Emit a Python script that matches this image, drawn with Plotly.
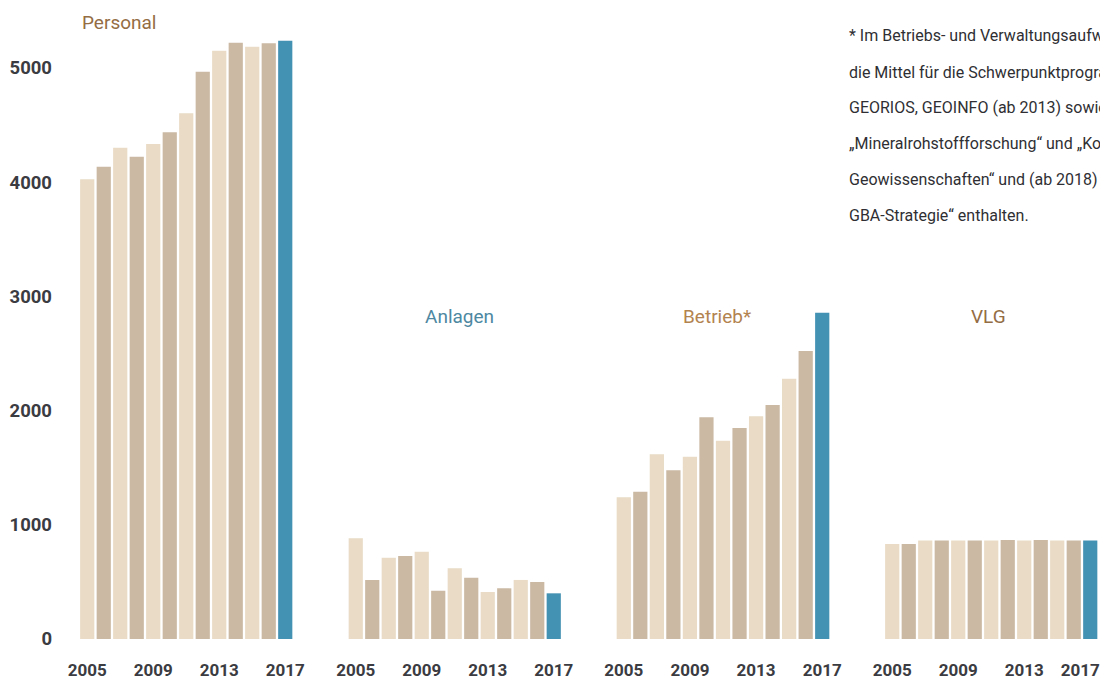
import plotly.graph_objects as go

years = list(range(2005, 2018))
personal = [4025, 4136, 4302, 4223, 4335, 4437, 4603, 4968, 5151, 5222, 5187, 5216, 5239]
anlagen = [882, 517, 712, 727, 765, 423, 619, 537, 412, 444, 517, 499, 400]
betrieb = [1241, 1290, 1617, 1477, 1596, 1941, 1736, 1848, 1950, 2049, 2279, 2522, 2857]
vlg = [832, 832, 862, 862, 862, 862, 862, 866, 862, 866, 862, 862, 862]
group_titles = ["Personal", "Anlagen", "Betrieb*", "VLG"]
title_colors = ["#946d44", "#4d88a2", "#b3834f", "#946d44"]
year_ticks = [2005, 2009, 2013, 2017]
y_ticks = [0, 1000, 2000, 3000, 4000, 5000]
footnote = [
    "* Im Betriebs- und Verwaltungsaufwand sind",
    "die Mittel für die Schwerpunktprogramme",
    "GEORIOS, GEOINFO (ab 2013) sowie (ab 2016)",
    "„Mineralrohstoffforschung“ und „Kompetenzzentrum",
    "Geowissenschaften“ und (ab 2018) für die „Umsetzung der",
    "GBA-Strategie“ enthalten.",
]

LIGHT = "#e9dbc5"
DARK = "#cbb9a4"
BLUE = "#4391b3"
colors = [LIGHT if i % 2 == 0 else DARK for i in range(len(years) - 1)] + [BLUE]

# page body adds an 8px offset; figure sized so it ends at the window edge
OFF = 8
W, H = 1100, 673
PLOT_H = 639 - OFF          # plot area height (top of figure to zero line)
PX_PER_UNIT = 0.1142
domains_px = [(79, 293.5), (347.5, 562), (615.5, 830.5), (884, 1098.5)]
series = [personal, anlagen, betrieb, vlg]

FONT_NUM = "Roboto, DejaVu Sans, sans-serif"
fig = go.Figure()
for i, (vals, dom) in enumerate(zip(series, domains_px)):
    xa = "x" if i == 0 else f"x{i+1}"
    fig.add_trace(go.Bar(x=years, y=vals, marker=dict(color=colors, line=dict(width=0)),
                         xaxis=xa, yaxis="y", showlegend=False, hoverinfo="x+y"))
    key = "xaxis" if i == 0 else f"xaxis{i+1}"
    tv = list(year_ticks)
    if i == 3:
        # nudge the last label left so it stays inside the visible window
        tv[-1] = year_ticks[-1] - 0.6
    fig.layout[key] = dict(domain=[(dom[0] - OFF) / W, (dom[1] - OFF) / W], range=[2004.5, 2017.5],
                           tickvals=tv, ticktext=[str(t) for t in year_ticks],
                           showgrid=False, zeroline=False, showline=False, ticks="",
                           tickfont=dict(family=FONT_NUM, size=17, color="#3b3b42", weight="bold"),
                           ticklabelstandoff=19, ticklabeloverflow="allow",
                           anchor="y", fixedrange=True, automargin=False)

fig.update_layout(
    yaxis=dict(range=[0, PLOT_H / PX_PER_UNIT], tickvals=y_ticks, ticktext=[str(t) for t in y_ticks],
               showgrid=False, zeroline=False, showline=False, ticks="", anchor="x",
               tickfont=dict(family=FONT_NUM, size=18.5, color="#3b3b42", weight="bold"),
               ticklabelstandoff=26, ticklabeloverflow="allow", automargin=False, fixedrange=True),
    bargap=0.14,
    width=W, height=H,
    margin=dict(l=0, r=0, t=0, b=H - PLOT_H, autoexpand=False),
    paper_bgcolor="white", plot_bgcolor="white",
)

def py2paper(py):
    return 1 - (py - OFF) / PLOT_H

def px2paper(px):
    return (px - OFF) / W

title_pos = [(119, 22), (459, 316), (717, 316), (988, 316)]
for t, c, (px, py) in zip(group_titles, title_colors, title_pos):
    fig.add_annotation(text=t, x=px2paper(px), y=py2paper(py), xref="paper", yref="paper",
                       xanchor="center", yanchor="middle", showarrow=False,
                       font=dict(family="Roboto, Open Sans, sans-serif", size=19, color=c))

foot_y = [35, 72, 107.5, 143.5, 179.5, 216]
for line, py in zip(footnote, foot_y):
    fig.add_annotation(text=line, x=px2paper(847), y=py2paper(py), xref="paper", yref="paper",
                       xanchor="left", yanchor="middle", showarrow=False,
                       font=dict(family="Roboto, sans-serif", size=16, color="#2f2f33"))

fig.write_html("out.html")
